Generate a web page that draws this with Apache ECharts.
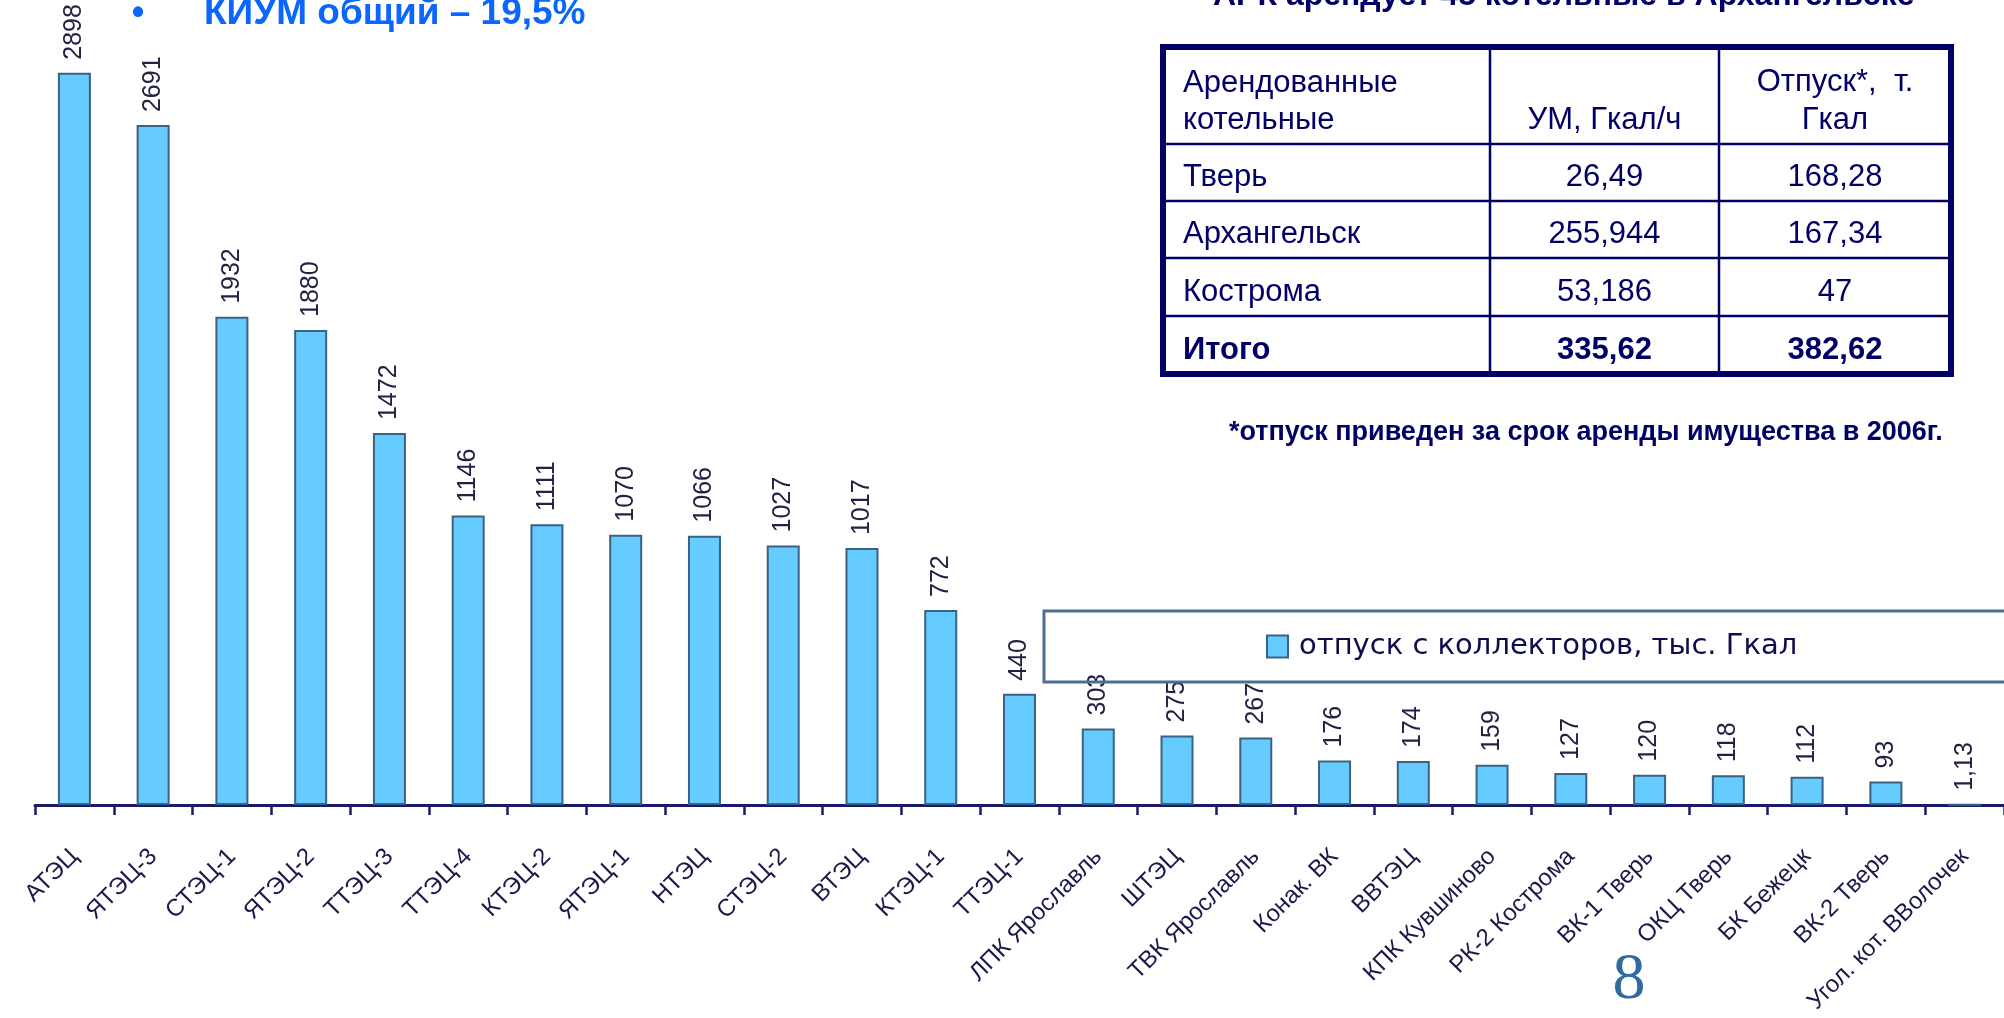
<!DOCTYPE html>
<html>
<head>
<meta charset="utf-8">
<script src="https://cdn.jsdelivr.net/npm/echarts@6/dist/echarts.min.js"></script>
<style>
html,body{margin:0;padding:0;background:#ffffff;}
#c{width:2004px;height:1018px;}
</style>
</head>
<body>
<div id="c"></div>
<script>
// ---- data ----
const categories = ['АТЭЦ','ЯТЭЦ-3','СТЭЦ-1','ЯТЭЦ-2','ТТЭЦ-3','ТТЭЦ-4','КТЭЦ-2','ЯТЭЦ-1','НТЭЦ','СТЭЦ-2','ВТЭЦ','КТЭЦ-1','ТТЭЦ-1','ЛПК Ярославль','ШТЭЦ','ТВК Ярославль','Конак. ВК','ВВТЭЦ','КПК Кувшиново','РК-2 Кострома','ВК-1 Тверь','ОКЦ Тверь','БК Бежецк','ВК-2 Тверь','Угол. кот. ВВолочек'];
const values = [2898,2691,1932,1880,1472,1146,1111,1070,1066,1027,1017,772,440,303,275,267,176,174,159,127,120,118,112,93,1.13];
const seriesName = 'отпуск с коллекторов, тыс. Гкал';
const kiumTitle = 'КИУМ общий – 19,5%';
const rightTitle = 'АРК арендует 45 котельные в Архангельске';
const tableHeader = [['Арендованные','котельные'], ['УМ, Гкал/ч'], ['Отпуск*,  т.','Гкал']];
const tableNames = ['Тверь','Архангельск','Кострома','Итого'];
const tableUM = ['26,49','255,944','53,186','335,62'];
const tableOtpusk = ['168,28','167,34','47','382,62'];
const footnote = '*отпуск приведен за срок аренды имущества в 2006г.';
const pageNumber = '8';

// ---- layout (styles only) ----
const NAVY = '#000066';
const FONT = '"Liberation Sans", Arial, sans-serif';
const colX = [1163, 1490, 1719, 1951];
const rowY = [47, 144, 201, 258, 316, 374];

const g = [];
// table frame
g.push({type:'rect', shape:{x:colX[0], y:rowY[0], width:colX[3]-colX[0], height:rowY[5]-rowY[0]},
  style:{fill:'#ffffff', stroke:NAVY, lineWidth:6}, z:10});
for (let i = 1; i < rowY.length - 1; i++) {
  g.push({type:'line', shape:{x1:colX[0], y1:rowY[i], x2:colX[3], y2:rowY[i]}, style:{stroke:NAVY, lineWidth:2.5}, z:11});
}
for (let j = 1; j < colX.length - 1; j++) {
  g.push({type:'line', shape:{x1:colX[j], y1:rowY[0], x2:colX[j], y2:rowY[5]}, style:{stroke:NAVY, lineWidth:2.5}, z:11});
}
function cellText(txt, x, y, align, bold) {
  g.push({type:'text', z:12, style:{text:txt, x:x, y:y, fill:NAVY, align:align, verticalAlign:'middle',
    font:(bold?'bold ':'') + '31px ' + FONT}});
}
// header
cellText(tableHeader[0][0], colX[0]+20, 83, 'left');
cellText(tableHeader[0][1], colX[0]+20, 120, 'left');
cellText(tableHeader[1][0], (colX[1]+colX[2])/2, 120, 'center');
cellText(tableHeader[2][0], (colX[2]+colX[3])/2, 82, 'center');
cellText(tableHeader[2][1], (colX[2]+colX[3])/2, 120, 'center');
for (let r = 0; r < tableNames.length; r++) {
  const cy = (rowY[r+1] + rowY[r+2]) / 2 + 5;
  const bold = r === tableNames.length - 1;
  cellText(tableNames[r], colX[0]+20, cy, 'left', bold);
  cellText(tableUM[r], (colX[1]+colX[2])/2, cy, 'center', bold);
  cellText(tableOtpusk[r], (colX[2]+colX[3])/2, cy, 'center', bold);
}
// footnote
g.push({type:'text', z:12, style:{text:footnote, x:1229, y:433, fill:NAVY, align:'left', verticalAlign:'middle',
  font:'bold 27px ' + FONT}});
// bullet
g.push({type:'text', z:12, style:{text:'•', x:138, y:14, fill:'#0a66ff', align:'center', verticalAlign:'middle',
  font:'bold 36px ' + FONT}});
// page number
g.push({type:'text', z:12, style:{text:pageNumber, x:1629, y:981, fill:'#2f6aa0', align:'center', verticalAlign:'middle',
  font:'66px "Liberation Serif", "Times New Roman", serif'}});

const chart = echarts.init(document.getElementById('c'), null, {renderer:'canvas'});
chart.setOption({
  animation:false,
  backgroundColor:'#ffffff',
  title:[
    {text:kiumTitle, left:204, top:-5, padding:0,
      textStyle:{color:'#0a66ff', fontSize:37, fontWeight:'bold', fontFamily:FONT}},
    {text:rightTitle, left:1213, top:-20, padding:0,
      textStyle:{color:NAVY, fontSize:32, fontWeight:'bold', fontFamily:FONT}}
  ],
  legend:{
    data:[seriesName],
    left:1044, top:611,
    padding:[21, 400, 21, 222],
    borderColor:'#4d6e8f', borderWidth:3, backgroundColor:'transparent',
    itemWidth:21, itemHeight:22,
    icon:'rect',
    itemStyle:{color:'#66ccff', borderColor:'#3b6283', borderWidth:2},
    textStyle:{fontSize:29, color:'#0d0d4d', fontFamily:'"DejaVu Sans", sans-serif', padding:[0,0,0,6]}
  },
  grid:{left:35, top:47, width:1985, height:758, containLabel:false},
  xAxis:{
    type:'category', data:categories, boundaryGap:true,
    axisLine:{show:true, lineStyle:{color:'#1a1a6a', width:3}},
    axisTick:{show:true, length:10, lineStyle:{color:'#1a1a6a', width:2.5}, alignWithLabel:false},
    axisLabel:{interval:0, rotate:45, margin:48, fontSize:24, color:'#1a1a4a', fontFamily:FONT}
  },
  yAxis:{type:'value', min:0, max:3000, show:false, splitLine:{show:false}},
  series:[{
    type:'bar', name:seriesName, data:values, barWidth:33,
    itemStyle:{color:'#66ccff', borderColor:'#3b6283', borderWidth:2},
    label:{show:true, position:'top', rotate:90, distance:13, align:'left', verticalAlign:'middle',
      fontSize:25, color:'#222244', fontFamily:FONT,
      formatter:(p)=>String(p.value).replace('.', ',')}
  }],
  graphic:g
});
</script>
</body>
</html>
